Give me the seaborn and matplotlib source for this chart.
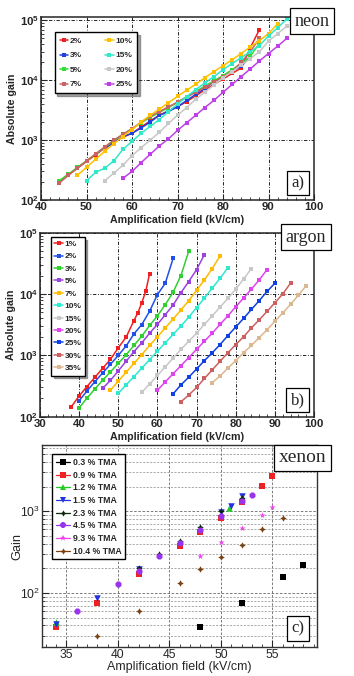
import matplotlib
matplotlib.use("Agg")
import matplotlib.pyplot as plt
import seaborn as sns
from matplotlib.lines import Line2D
from matplotlib.ticker import LogLocator, MultipleLocator, NullFormatter

# ---------------- neon (a) ----------------
ne_labels = ["2%", "3%", "5%", "7%", "10%", "15%", "20%", "25%"]
ne_colors = ["#ee2020", "#2040e0", "#33dd33", "#c86464", "#ffc000", "#33e8c8", "#c8c8c8", "#c040e8"]
ne_x = [
    [44, 46, 48, 50, 52, 54, 56, 58, 60, 62, 64, 66, 68, 70, 72, 74, 76, 78, 80, 82, 84, 86, 88],
    [54, 56, 58, 60, 62, 64, 66, 68, 70, 72, 74, 76, 78, 80, 82, 84, 86],
    [44, 46, 48, 50, 52, 54, 56, 58, 60, 62, 64, 66, 68, 70, 72, 74, 76, 78, 80, 82, 84, 86, 88],
    [44, 46, 48, 50, 52, 54, 56, 58, 60, 62, 64, 66, 68, 70, 72, 74, 76, 78, 80, 82, 84, 86, 88],
    [48, 50, 52, 54, 56, 58, 60, 62, 64, 66, 68, 70, 72, 74, 76, 78, 80, 82, 84, 86, 88, 90, 92],
    [50, 52, 54, 56, 58, 60, 62, 64, 66, 68, 70, 72, 74, 76, 78, 80, 82, 84, 86, 88, 90, 92, 94],
    [54, 56, 58, 60, 62, 64, 66, 68, 70, 72, 74, 76, 78, 80, 82, 84, 86, 88, 90, 92, 94],
    [58, 60, 62, 64, 66, 68, 70, 72, 74, 76, 78, 80, 82, 84, 86, 88, 90, 92, 94],
]
ne_gain = [
    [200, 260, 340, 440, 570, 740, 930, 1120, 1300, 1650, 2100, 2600, 3100, 3600, 4400, 5500, 6900, 8500, 10500, 13000, 16000, 35000, 70000],
    [720, 920, 1150, 1300, 1600, 2000, 2600, 3000, 3600, 4600, 5800, 7300, 9500, 11500, 14500, 17000, 25000],
    [210, 270, 350, 450, 580, 760, 980, 1250, 1550, 1950, 2400, 2900, 3500, 4300, 5300, 6500, 8000, 9800, 12000, 15000, 19000, 25000, 42000],
    [190, 260, 340, 450, 590, 770, 1000, 1250, 1550, 2000, 2500, 3000, 3600, 4300, 5200, 6300, 7600, 9300, 11500, 14000, 20000, 30000, 50000],
    [260, 350, 480, 650, 870, 1150, 1500, 2000, 2600, 3300, 4200, 5400, 6800, 8600, 11000, 14000, 17500, 22000, 28000, 36000, 46000, 60000, 88000],
    [210, 290, 340, 450, 700, 950, 1300, 1700, 2200, 3000, 4000, 5300, 7000, 9000, 11500, 15000, 19000, 24000, 30000, 38000, 55000, 75000, 105000],
    [210, 280, 380, 550, 750, 1000, 1350, 1900, 2600, 3500, 4800, 6300, 8300, 11000, 14000, 18000, 23000, 30000, 45000, 60000, 80000],
    [230, 300, 420, 580, 800, 1050, 1450, 1950, 2600, 3500, 4600, 6300, 8500, 11500, 15500, 21000, 28000, 37000, 50000],
]

# ---------------- argon (b) ----------------
ar_labels = ["1%", "2%", "3%", "5%", "7%", "10%", "15%", "20%", "25%", "30%", "35%"]
ar_colors = ["#f02020", "#2050e8", "#30d030", "#9a44dd", "#ffbb00", "#30e8d0", "#c8c8c8", "#dd44ee", "#1040e0", "#cc6060", "#dcb890"]
ar_x = [
    [38, 40, 42, 44, 46, 48, 50, 52, 54, 55, 56, 57, 58],
    [40, 42, 44, 46, 48, 50, 52, 54, 56, 58, 60, 62, 64],
    [40, 42, 44, 46, 48, 50, 52, 54, 56, 58, 60, 62, 64, 66, 68],
    [46, 48, 50, 52, 54, 56, 58, 60, 62, 64, 66, 68, 70, 72],
    [48, 50, 52, 54, 56, 58, 60, 62, 64, 66, 68, 70, 72, 74, 76],
    [50, 52, 54, 56, 58, 60, 62, 64, 66, 68, 70, 72, 74, 76, 78],
    [56, 58, 60, 62, 64, 66, 68, 70, 72, 74, 76, 78, 80, 82, 84],
    [60, 62, 64, 66, 68, 70, 72, 74, 76, 78, 80, 82, 84, 86, 88],
    [64, 66, 68, 70, 72, 74, 76, 78, 80, 82, 84, 86, 88, 90],
    [66, 68, 70, 72, 74, 76, 78, 80, 82, 84, 86, 88, 90, 92, 94],
    [74, 76, 78, 80, 82, 84, 86, 88, 90, 92, 94, 96, 98],
]
ar_gain = [
    [145, 218, 310, 436, 615, 860, 1330, 1980, 3700, 4930, 7230, 11000, 21600],
    [182, 263, 370, 517, 715, 1000, 1420, 2240, 3180, 5240, 9800, 15000, 38000],
    [140, 200, 283, 393, 537, 740, 1020, 1450, 2060, 3070, 4400, 6700, 10700, 20000, 50000],
    [290, 390, 560, 800, 1150, 1600, 2300, 3200, 4600, 6600, 10500, 16000, 25000, 44000],
    [270, 380, 530, 740, 1030, 1450, 2000, 2800, 3900, 5500, 7800, 11500, 17000, 26000, 42000],
    [240, 330, 450, 620, 850, 1170, 1600, 2200, 3000, 4200, 6000, 8600, 12500, 18000, 27000],
    [250, 340, 470, 650, 900, 1250, 1700, 2300, 3200, 4400, 6100, 8500, 12000, 17500, 26000],
    [270, 370, 500, 680, 920, 1250, 1700, 2300, 3200, 4400, 6200, 8600, 12000, 17000, 25000],
    [235, 330, 440, 600, 820, 1100, 1500, 2100, 2900, 4000, 5600, 7800, 11000, 15000],
    [175, 225, 300, 420, 580, 800, 1100, 1500, 2000, 2800, 3800, 5200, 7200, 10000, 15000],
    [360, 460, 620, 820, 1100, 1450, 1950, 2600, 3600, 4900, 6800, 9500, 13700],
]

# ---------------- xenon (c) ----------------
xe_labels = ["0.3 % TMA", "0.9 % TMA", "1.2 % TMA", "1.5 % TMA", "2.3 % TMA", "4.5 % TMA", "9.3 % TMA", "10.4 % TMA"]
xe_colors = ["#000000", "#ee2222", "#22cc22", "#2233dd", "#0a2a0a", "#9933ee", "#ee44ee", "#7a4010"]
xe_markers = ["s", "s", "^", "v", (4, 1, 0), "8", "*", (4, 1, 0)]
xe_x = [
    [48, 52, 56, 58],
    [34, 38, 42, 46, 48, 50, 52, 54, 55],
    [34, 50.8],
    [34, 38, 42, 50, 51, 52],
    [42, 44, 46, 48, 50, 52],
    [36, 40, 42, 44, 46, 48, 50, 52, 53],
    [48, 50, 52, 54, 55],
    [38, 42, 46, 48, 50, 52, 54, 56],
]
xe_gain = [
    [38, 75, 158, 222],
    [38, 75, 173, 373, 553, 830, 1290, 2020, 2740],
    [44, 1090],
    [42, 88, 196, 980, 1170, 1530],
    [200, 300, 437, 643, 1000, 1460],
    [61, 130, 185, 281, 410, 585, 885, 1350, 1585],
    [286, 420, 620, 910, 1130],
    [30, 61, 134, 196, 276, 390, 600, 830],
]

sns.set_style("ticks")
plt.rcParams['font.family'] = ['Liberation Sans', 'DejaVu Sans']
plt.rcParams['mathtext.fontset'] = 'custom'
plt.rcParams['mathtext.rm'] = 'Liberation Sans'
plt.rcParams['mathtext.bf'] = 'Liberation Sans:bold'

W, H = 354, 676
fig = plt.figure(figsize=(W / 100, H / 100), dpi=100)


def px_axes(l, t, r, b):
    return fig.add_axes([l / W, 1 - b / H, (r - l) / W, (b - t) / H])


def tag(x, y, s, size):
    fig.text(x / W, 1 - y / H, s, ha='center', va='center', fontsize=size,
             family=['Liberation Serif', 'DejaVu Serif'],
             bbox=dict(boxstyle='square,pad=0.25', fc='white', ec='black', lw=0.9))


def gain_panel(ax, xs, ys, labels, colors, xlim, xstep):
    for x, y, lab, c in zip(xs, ys, labels, colors):
        sns.lineplot(x=x, y=y, color=c, marker='s', markersize=3.2, markeredgewidth=0,
                     linewidth=1.1, label=lab, ax=ax)
    ax.set_yscale('log')
    ax.set_xlim(*xlim)
    ax.xaxis.set_major_locator(MultipleLocator(10))
    ax.xaxis.set_minor_locator(MultipleLocator(xstep))
    ax.set_yticks([1e2, 1e3, 1e4, 1e5])
    ax.set_yticklabels([r'$\mathbf{10}^{\mathbf{%d}}$' % k for k in (2, 3, 4, 5)])
    ax.yaxis.set_minor_locator(LogLocator(base=10, subs=range(2, 10)))
    ax.yaxis.set_minor_formatter(NullFormatter())
    for t in ax.get_xticklabels():
        t.set_fontweight('bold')
    ax.tick_params(axis='both', which='major', direction='in', length=4, labelsize=8.2, pad=1.5)
    ax.tick_params(axis='both', which='minor', direction='in', length=2)
    ax.grid(True, which='major', color='black', linestyle=(0, (4, 2, 1, 2)), linewidth=0.6)
    for s in ax.spines.values():
        s.set_linewidth(1.1)
    ax.set_xlabel('Amplification field (kV/cm)', fontsize=7.7, fontweight='bold')
    ax.set_ylabel('Absolute gain', fontsize=7.7, fontweight='bold')
    ax.yaxis.set_label_coords(-0.088, 0.5)
    ax.xaxis.set_label_coords(0.5, -0.083)


# panel a: neon
ax1 = px_axes(41, 17, 314, 200)
gain_panel(ax1, ne_x, ne_gain, ne_labels, ne_colors, (40, 100), 2)
ax1.set_ylim(100, 1.14e5)
ax1.legend(loc='upper left', bbox_to_anchor=(0.035, 0.94), ncol=2,
           prop={'weight': 'bold', 'size': 6}, frameon=True, fancybox=False, shadow=True,
           edgecolor='black', handlelength=1.0, handletextpad=0.2, columnspacing=2.8,
           labelspacing=0.8, borderpad=0.6, framealpha=1)
tag(312, 21, 'neon', 13)
tag(298, 183, 'a)', 12)

# panel b: argon
ax2 = px_axes(40, 232.7, 314, 416.7)
gain_panel(ax2, ar_x, ar_gain, ar_labels, ar_colors, (30, 100), 2)
ax2.set_ylim(100, 1e5)
ax2.legend(loc='upper left', bbox_to_anchor=(0.025, 1.0), ncol=1,
           prop={'weight': 'bold', 'size': 6}, frameon=True, fancybox=False, shadow=True,
           edgecolor='black', handlelength=1.0, handletextpad=0.2,
           labelspacing=0.55, borderpad=0.4, framealpha=1)
tag(306, 237, 'argon', 13)
tag(297.5, 400, 'b)', 12)

# panel c: xenon
ax3 = px_axes(41.7, 445, 316.7, 647)
handles = []
for x, y, lab, c, m in zip(xe_x, xe_gain, xe_labels, xe_colors, xe_markers):
    sns.scatterplot(x=x, y=y, color=c, marker=m, s=22, linewidth=0, ax=ax3)
    handles.append(Line2D([], [], color=c, marker=m, markersize=4.5, markeredgewidth=0,
                          linewidth=0.9, label=lab))
ax3.set_yscale('log')
ax3.set_xlim(32.6, 59.3)
ax3.set_ylim(21.8, 6500)
ax3.xaxis.set_major_locator(MultipleLocator(5))
ax3.xaxis.set_minor_locator(MultipleLocator(1))
ax3.set_yticks([1e2, 1e3])
ax3.set_yticklabels([r'$10^{2}$', r'$10^{3}$'])
ax3.yaxis.set_minor_locator(LogLocator(base=10, subs=range(2, 10)))
ax3.yaxis.set_minor_formatter(NullFormatter())
ax3.tick_params(axis='both', which='major', direction='in', length=5, labelsize=8.7, pad=1.5)
ax3.tick_params(axis='both', which='minor', direction='in', length=2.5)
ax3.grid(True, which='major', color='#666666', linestyle=(0, (3, 2)), linewidth=0.6)
ax3.grid(True, which='minor', axis='y', color='#888888', linestyle=(0, (3, 2)), linewidth=0.5)
for s in ax3.spines.values():
    s.set_linewidth(1.0)
    s.set_color('#333333')
ax3.set_xlabel('Amplification field (kV/cm)', fontsize=9)
ax3.set_ylabel('Gain', fontsize=9.2)
ax3.xaxis.set_label_coords(0.5, -0.068)
ax3.yaxis.set_label_coords(-0.068, 0.5)
ax3.legend(handles=handles, loc='upper left', bbox_to_anchor=(0.023, 0.975),
           prop={'weight': 'bold', 'size': 6.3}, frameon=True, fancybox=False,
           edgecolor='black', handlelength=1.6, handletextpad=0.3,
           labelspacing=0.42, borderpad=0.4, framealpha=1)
tag(302.5, 458, 'xenon', 14)
tag(298, 628.5, 'c)', 12)

fig.savefig('out.png', dpi=100)
